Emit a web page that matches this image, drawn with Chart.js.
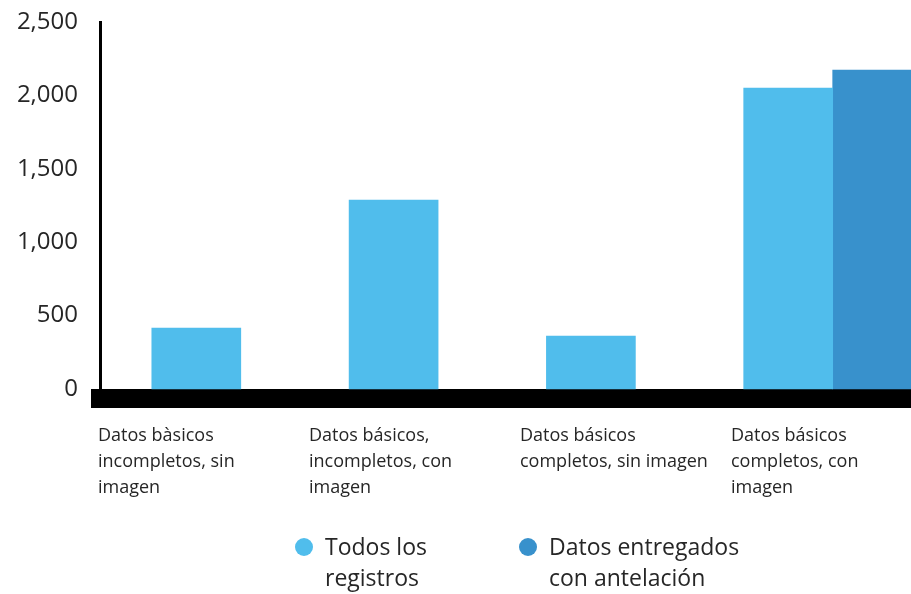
<!DOCTYPE html>
<html>
<head>
<meta charset="utf-8">
<script src="https://cdn.jsdelivr.net/npm/chart.js@4.4.1/dist/chart.umd.min.js"></script>
<style>
  html, body { margin: 0; padding: 0; overflow: hidden; background: #fff; }
  #wrap { position: relative; width: 911px; height: 594px; overflow: hidden; }
  canvas { display: block; }
  #leyenda { position: absolute; left: 295px; top: 531px; display: flex;
    font: 23px/31px "Open Sans", sans-serif; color: #262626; }
  #leyenda .item { display: flex; align-items: flex-start; }
  #leyenda .item:first-child { width: 224px; }
  #leyenda .punto { width: 18px; height: 18px; border-radius: 50%; margin: 6.5px 12px 0 0; flex: none; }
</style>
</head>
<body>
<div id="wrap">
  <canvas id="chart" width="960" height="594"></canvas>
  <div id="leyenda"></div>
</div>
<script>
// categorías (cada etiqueta partida en líneas)
const categorias = [
  ['Datos bàsicos', 'incompletos, sin', 'imagen'],
  ['Datos básicos,', 'incompletos, con', 'imagen'],
  ['Datos básicos', 'completos, sin imagen'],
  ['Datos básicos', 'completos, con', 'imagen']
];
// series
const nombresSeries = [
  ['Todos los', 'registros'],
  ['Datos entregados', 'con antelación']
];
const todosRegistros = [415, 1287, 361, 2050];
const conAntelacion = [null, null, null, 2173];
const ticksY = [0, 500, 1000, 1500, 2000, 2500];

const colores = ['#50bdec', '#3891cc'];
const texto = '#262626';
const fuente = '"Open Sans", sans-serif';

// geometría del eje x (px por categoría)
const W = document.getElementById('chart').width;
const izq = 100;
const pasoBarras = 197.3, origenBarras = 240.8;
const pasoEtiquetas = 211, origenEtiquetas = 98;
const xMin = (izq - origenBarras) / pasoBarras;
const xlMin = (izq - origenEtiquetas) / pasoEtiquetas;
// la franja negra del eje (19px) queda bajo el cero
const yMin = -65;

const puntos = serie => serie.map((v, i) => ({ x: i, y: v })).filter(p => p.y !== null);

const chart = new Chart(document.getElementById('chart'), {
  type: 'bar',
  data: {
    datasets: [
      { label: nombresSeries[0].join(' '), data: puntos(todosRegistros), backgroundColor: colores[0], borderWidth: 0 },
      { label: nombresSeries[1].join(' '), data: puntos(conAntelacion), backgroundColor: colores[1], borderWidth: 0 }
    ]
  },
  options: {
    responsive: false,
    animation: false,
    barThickness: 89,
    layout: { padding: { top: 22, left: 0, right: 0, bottom: 75.5 } },
    plugins: {
      tooltip: { enabled: false },
      legend: { display: false }
    },
    scales: {
      x: {
        type: 'linear',
        offset: false,
        bounds: 'data',
        weight: 0,
        min: xMin,
        max: xMin + (W - izq) / pasoBarras,
        grid: { display: false, drawTicks: false },
        ticks: { display: false },
        border: { color: '#000', width: 19 },
        afterFit: s => { s.height = 0; }
      },
      xl: {
        type: 'linear',
        position: 'bottom',
        offset: false,
        bounds: 'data',
        weight: 1,
        min: xlMin,
        max: xlMin + (W - izq) / pasoEtiquetas,
        grid: { display: false, drawTicks: false },
        border: { display: false },
        afterBuildTicks: s => { s.ticks = categorias.map((c, i) => ({ value: i })); },
        afterFit: s => { s.height = 120; s.paddingLeft = 0; s.paddingRight = 0; },
        ticks: {
          align: 'start',
          padding: 25,
          autoSkip: false,
          maxRotation: 0,
          minRotation: 0,
          color: texto,
          font: { family: fuente, size: 18, lineHeight: 1.42 },
          callback: v => categorias[v]
        }
      },
      y: {
        min: yMin,
        max: 2500,
        afterFit: s => { s.width = izq; s.paddingTop = 0; s.paddingBottom = 0; },
        afterBuildTicks: s => { s.ticks = ticksY.map(v => ({ value: v })); },
        grid: { display: false, drawTicks: false },
        border: { color: '#000', width: 3 },
        ticks: {
          padding: 22,
          color: texto,
          font: { family: fuente, size: 24 },
          callback: v => v.toLocaleString('en-US')
        }
      }
    }
  }
});

// leyenda en HTML, generada desde los datasets
const leyenda = document.getElementById('leyenda');
chart.data.datasets.forEach((ds, i) => {
  const item = document.createElement('div');
  item.className = 'item';
  const punto = document.createElement('span');
  punto.className = 'punto';
  punto.style.background = ds.backgroundColor;
  const txt = document.createElement('span');
  txt.innerHTML = nombresSeries[i].join('<br>');
  item.append(punto, txt);
  leyenda.append(item);
});
</script>
</body>
</html>
